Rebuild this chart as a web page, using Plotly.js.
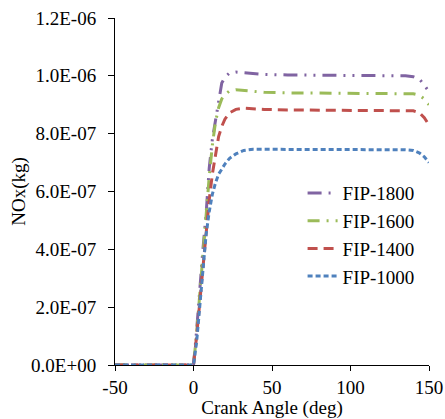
<!DOCTYPE html>
<html>
<head>
<meta charset="utf-8">
<script src="https://cdn.plot.ly/plotly-3.0.1.min.js"></script>
<style>html,body{margin:0;padding:0;background:#fff;}#chart{width:445px;height:419px;}</style>
</head>
<body>
<div id="chart"></div>
<script>
// Crank angle (deg)
const crankAngle = [-50, -40, -30, -20, -10, 0, 2, 4, 6, 8, 10, 12, 14, 16, 18, 20, 23, 27, 32, 38, 45, 60, 80, 100, 120, 135, 140, 144, 147, 150];
// NOx (kg)
const fip1800 = [0, 0, 0, 0, 0, 0, 0.12e-6, 0.27e-6, 0.40e-6, 0.52e-6, 0.68e-6, 0.78e-6, 0.85e-6, 0.92e-6, 0.975e-6, 0.995e-6, 1.010e-6, 1.013e-6, 1.011e-6, 1.008e-6, 1.005e-6, 1.003e-6, 1.002e-6, 1.002e-6, 1.001e-6, 1.000e-6, 0.997e-6, 0.988e-6, 0.968e-6, 0.945e-6];
const fip1600 = [0, 0, 0, 0, 0, 0, 0.11e-6, 0.25e-6, 0.39e-6, 0.52e-6, 0.65e-6, 0.76e-6, 0.84e-6, 0.89e-6, 0.92e-6, 0.935e-6, 0.948e-6, 0.952e-6, 0.949e-6, 0.945e-6, 0.943e-6, 0.941e-6, 0.940e-6, 0.940e-6, 0.940e-6, 0.939e-6, 0.938e-6, 0.933e-6, 0.92e-6, 0.90e-6];
const fip1400 = [0, 0, 0, 0, 0, 0, 0.10e-6, 0.22e-6, 0.34e-6, 0.47e-6, 0.57e-6, 0.66e-6, 0.73e-6, 0.79e-6, 0.825e-6, 0.85e-6, 0.872e-6, 0.884e-6, 0.888e-6, 0.886e-6, 0.884e-6, 0.882e-6, 0.881e-6, 0.881e-6, 0.880e-6, 0.880e-6, 0.879e-6, 0.872e-6, 0.855e-6, 0.83e-6];
const fip1000 = [0, 0, 0, 0, 0, 0, 0.08e-6, 0.20e-6, 0.33e-6, 0.45e-6, 0.53e-6, 0.59e-6, 0.63e-6, 0.66e-6, 0.677e-6, 0.695e-6, 0.715e-6, 0.73e-6, 0.742e-6, 0.746e-6, 0.746e-6, 0.745e-6, 0.745e-6, 0.745e-6, 0.745e-6, 0.744e-6, 0.742e-6, 0.733e-6, 0.72e-6, 0.70e-6];
const seriesNames = ['FIP-1800', 'FIP-1600', 'FIP-1400', 'FIP-1000'];
const yTickVals = [0, 2e-7, 4e-7, 6e-7, 8e-7, 1e-6, 1.2e-6];
const yTickText = ['0.0E+00', '2.0E-07', '4.0E-07', '6.0E-07', '8.0E-07', '1.0E-06', '1.2E-06'];
const xTickVals = [-50, 0, 50, 100, 150];
const xTickText = ['-50', '0', '50', '100', '150'];

const font = {family: '"Liberation Serif", "Times New Roman", serif', size: 19, color: '#000'};
const mk = (y, name, color, dash) => ({
  x: crankAngle, y: y, name: name, type: 'scatter', mode: 'lines',
  line: {color: color, width: 3, dash: dash}
});
const data = [
  mk(fip1800, seriesNames[0], '#8064A2', '14px,7px,2px,7px,2px,7px'),
  mk(fip1600, seriesNames[1], '#9BBB59', '12px,7px,2px,7px'),
  mk(fip1400, seriesNames[2], '#C0504D', '10px,6px'),
  mk(fip1000, seriesNames[3], '#4F81BD', '5px,3px')
];
const layout = {
  width: 445, height: 419,
  margin: {l: 115, r: 16, t: 18, b: 54},
  paper_bgcolor: '#fff', plot_bgcolor: '#fff',
  font: font,
  showlegend: true,
  legend: {x: 0.97, y: 0.55, xanchor: 'right', yanchor: 'top', font: font, bgcolor: 'rgba(0,0,0,0)', tracegroupgap: 0},
  xaxis: {
    range: [-50, 150], tickvals: xTickVals, ticktext: xTickText, ticks: 'outside', ticklen: 5, tickwidth: 1, tickcolor: '#000',
    showline: true, linecolor: '#000', linewidth: 1, showgrid: false, zeroline: false,
    tickfont: font, title: {text: 'Crank Angle (deg)', font: font, standoff: 0}
  },
  yaxis: {
    range: [0, 1.2e-6], tickvals: yTickVals, ticktext: yTickText, ticks: 'outside', ticklen: 6, tickwidth: 1, tickcolor: '#000',
    ticklabelstandoff: 8,
    showline: true, linecolor: '#000', linewidth: 1, showgrid: false, zeroline: false,
    tickfont: font, title: {text: 'NOx(kg)', font: font, standoff: 0}
  }
};
Plotly.newPlot('chart', data, layout, {displayModeBar: false, staticPlot: true});
</script>
</body>
</html>
